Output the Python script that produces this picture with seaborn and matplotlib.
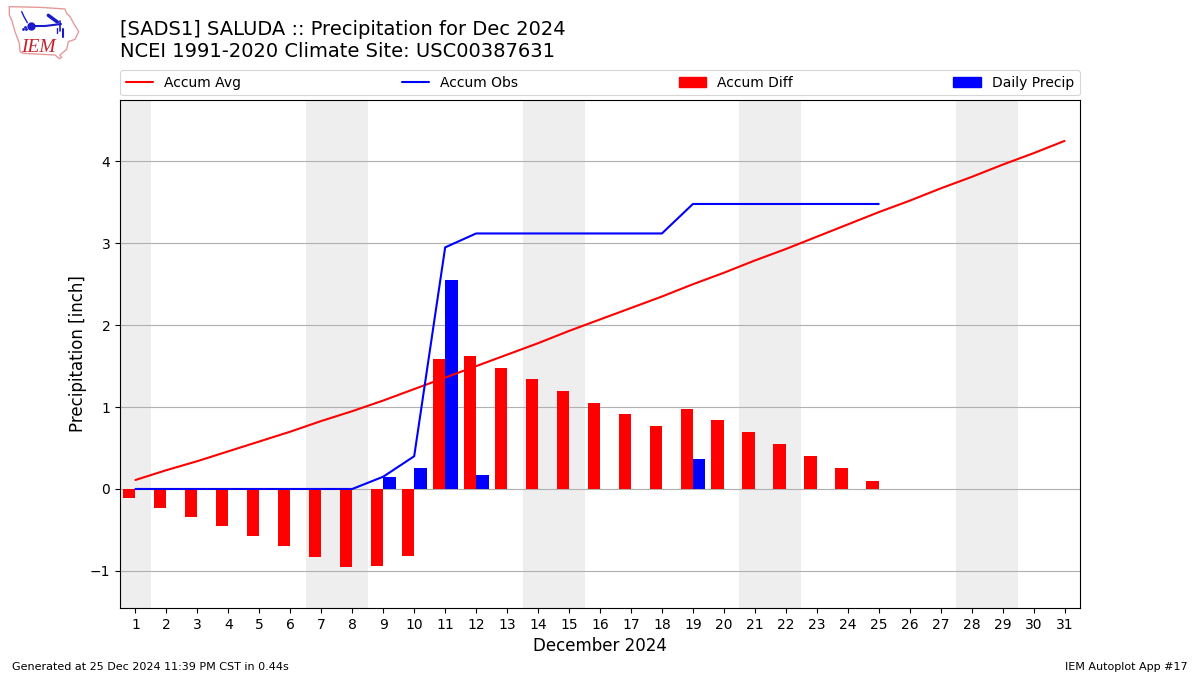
import numpy as np
import pandas as pd
import matplotlib
matplotlib.use("Agg")
import matplotlib.pyplot as plt
import seaborn as sns
from matplotlib.patches import Patch
from matplotlib.lines import Line2D

days = list(range(1, 32))
accum_avg = [0.11, 0.23, 0.34, 0.46, 0.58, 0.70, 0.83, 0.95, 1.08, 1.22, 1.36, 1.50, 1.64, 1.78, 1.93, 2.07,
             2.21, 2.35, 2.50, 2.64, 2.79, 2.93, 3.08, 3.23, 3.38, 3.52, 3.67, 3.81, 3.96, 4.10, 4.25]
accum_obs = [0, 0, 0, 0, 0, 0, 0, 0, 0.15, 0.40, 2.95, 3.12, 3.12, 3.12, 3.12, 3.12, 3.12, 3.12, 3.48, 3.48,
             3.48, 3.48, 3.48, 3.48, 3.48]
accum_diff = [-0.11, -0.23, -0.34, -0.45, -0.57, -0.70, -0.83, -0.95, -0.94, -0.82, 1.59, 1.62, 1.48, 1.34,
              1.20, 1.05, 0.91, 0.77, 0.98, 0.84, 0.70, 0.55, 0.40, 0.26, 0.10]
daily_precip = [0, 0, 0, 0, 0, 0, 0, 0, 0.15, 0.26, 2.55, 0.17, 0, 0, 0, 0, 0, 0, 0.36, 0, 0, 0, 0, 0, 0]
weekend_spans = [(0.5, 1.5), (6.5, 8.5), (13.5, 15.5), (20.5, 22.5), (27.5, 29.5)]

sns.set_theme(style="ticks", rc={"axes.grid": False, "text.color": "black", "axes.labelcolor": "black"})
plt.rcParams["font.family"] = ["DejaVu Sans"]

fig = plt.figure(figsize=(12, 6.75), dpi=100)
ax = fig.add_axes([0.1, 0.0993, 0.8, 0.7526])

for a, b in weekend_spans:
    ax.axvspan(a, b, color="#eeeeee", zorder=0, lw=0)
ax.yaxis.grid(True, color="#b0b0b0", lw=0.8, zorder=1)
ax.set_axisbelow(True)

n = len(accum_diff)
bars = pd.DataFrame({
    "day": days[:n] * 2,
    "value": accum_diff + daily_precip,
    "series": ["Accum Diff"] * n + ["Daily Precip"] * n,
})
sns.barplot(data=bars, x="day", y="value", hue="series", native_scale=True, dodge=True, width=0.8, gap=0,
            palette={"Accum Diff": "#ff0000", "Daily Precip": "#0000ff"}, errorbar=None, legend=False,
            saturation=1, linewidth=0, ax=ax, zorder=2)
sns.lineplot(x=days, y=accum_avg, color="#ff0000", lw=1.5, ax=ax, zorder=3, errorbar=None)
sns.lineplot(x=days[:len(accum_obs)], y=accum_obs, color="#0000ff", lw=1.5, ax=ax, zorder=3, errorbar=None)

ax.set_xlim(0.5, 31.5)
ax.set_ylim(-1.453, 4.75)
ax.set_xticks(days)
ax.set_xticklabels([str(d) for d in days])
ax.set_yticks([-1, 0, 1, 2, 3, 4])
ax.set_yticklabels(["\u22121", "0", "1", "2", "3", "4"])
ax.tick_params(labelsize=10, length=3.5, width=0.8, color="black", labelcolor="black", pad=3.5)
ax.set_xlabel("December 2024", fontsize=12, color="black", labelpad=4)
ax.set_ylabel("Precipitation [inch]", fontsize=12, color="black", labelpad=2)
for s in ax.spines.values():
    s.set_color("black")
    s.set_linewidth(0.8)

handles = [Line2D([], [], color="#ff0000", lw=1.5), Line2D([], [], color="#0000ff", lw=1.5),
           Patch(color="#ff0000"), Patch(color="#0000ff")]
labels = ["Accum Avg", "Accum Obs", "Accum Diff", "Daily Precip"]
leg = ax.legend(handles, labels, ncol=4, mode="expand", loc="lower left",
                bbox_to_anchor=(0, 1.009, 1, 0.05), bbox_transform=ax.transAxes,
                borderaxespad=0.0, fontsize=10, frameon=True, labelcolor="black")
leg.get_frame().set_linewidth(0.8)

fig.text(0.1, 0.909, "[SADS1] SALUDA :: Precipitation for Dec 2024\nNCEI 1991-2020 Climate Site: USC00387631",
         fontsize=14, color="black", va="bottom", ha="left", linespacing=1.2)
fig.text(0.01, 0.0074, "Generated at 25 Dec 2024 11:39 PM CST in 0.44s", fontsize=8, color="black")
fig.text(0.99, 0.0074, "IEM Autoplot App #17", fontsize=8, color="black", ha="right")

# Logo drawn on a small overlay axes
logo = fig.add_axes([0, 1 - 70 / 675, 130 / 1200, 70 / 675])
logo.set_xlim(0, 390)
logo.set_ylim(210, 0)
logo.axis("off")
outline_x = [28, 120, 195, 200, 210, 222, 236, 225, 205, 200, 180, 185, 178, 165, 70, 60, 58, 45, 35, 28, 28]
outline_y = [20, 22, 27, 40, 50, 72, 95, 118, 125, 148, 165, 172, 176, 165, 160, 155, 130, 95, 60, 45, 20]
logo.plot(outline_x, outline_y, color="#e59a9a", lw=1.0)
for xs, ys, w in [([95, 135, 183], [78, 78, 72], 1.5), ([145, 172], [46, 66], 2.5), ([180, 180], [62, 92], 1.2),
                  ([65, 72, 82], [35, 50, 68], 1.0), ([172, 172], [85, 100], 1.0), ([188, 188], [88, 112], 1.5)]:
    logo.plot(xs, ys, color="#1a1acc", lw=w, solid_capstyle="round")
logo.plot([93], [78], "o", color="#1a1acc", ms=5)
logo.plot([68, 74, 78], [88, 82, 88], ".", color="#1a1acc", ms=2)
logo.text(62, 156, "IEM", fontsize=14, color="#c8202a", style="italic", family="Liberation Serif", va="baseline")

fig.savefig("out.png", dpi=100)
